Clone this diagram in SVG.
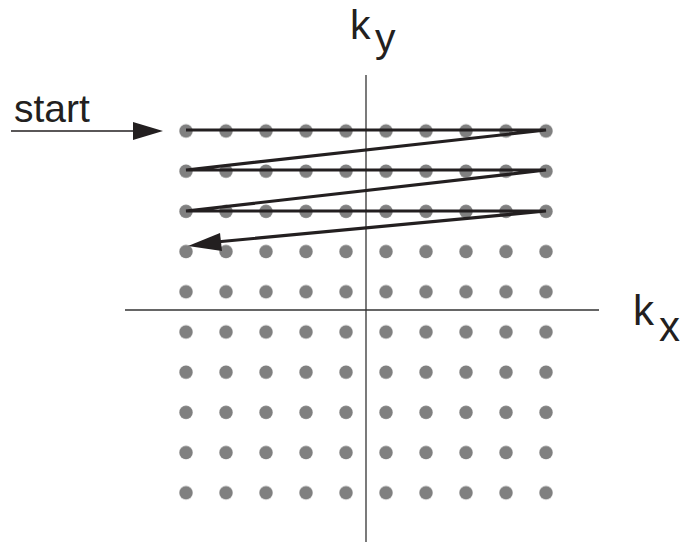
<svg xmlns="http://www.w3.org/2000/svg" width="683" height="546" viewBox="0 0 683 546">
<style>
.dot{fill:#808080}
.axis{stroke:#333;stroke-width:1.3;fill:none}
.lbl{font-family:"Liberation Sans",Arial,sans-serif;fill:#231f20}
.path{stroke:#231f20;stroke-width:3.2;fill:none;stroke-linejoin:miter}
</style>
<defs>
<pattern id="grid" x="166" y="111" width="40" height="40.2" patternUnits="userSpaceOnUse">
<circle class="dot" cx="20" cy="20" r="6.7"/>
</pattern>
</defs>
<rect x="0" y="0" width="683" height="546" fill="#fff"/>
<g id="grid-dots">
<rect x="176" y="121" width="380" height="382" fill="url(#grid)"/>
</g>
<g id="axes">
<line class="axis" x1="366" y1="75" x2="366" y2="542"/>
<line class="axis" x1="125" y1="310" x2="599" y2="310"/>
</g>
<g id="label-ky">
<text class="lbl" x="350" y="39" font-size="41">k</text>
<text class="lbl" x="375" y="52" font-size="41">y</text>
</g>
<g id="label-kx">
<text class="lbl" x="633" y="325" font-size="42">k</text>
<text class="lbl" x="659" y="341" font-size="42">x</text>
</g>
<g id="label-start">
<text class="lbl" x="14" y="122" font-size="39">start</text>
</g>
<g id="connectors">
<line x1="11" y1="131" x2="134" y2="131" stroke="#231f20" stroke-width="1.3"/>
<path d="M133,122 L163,131 L133,140 Z" fill="#231f20"/>
<polyline class="path" points="186,130 546,130 186,170 546,170 186,211 546,211 216,242"/>
<path d="M188,246 L220,233 L222,251 Z" fill="#231f20"/>
</g>
</svg>
